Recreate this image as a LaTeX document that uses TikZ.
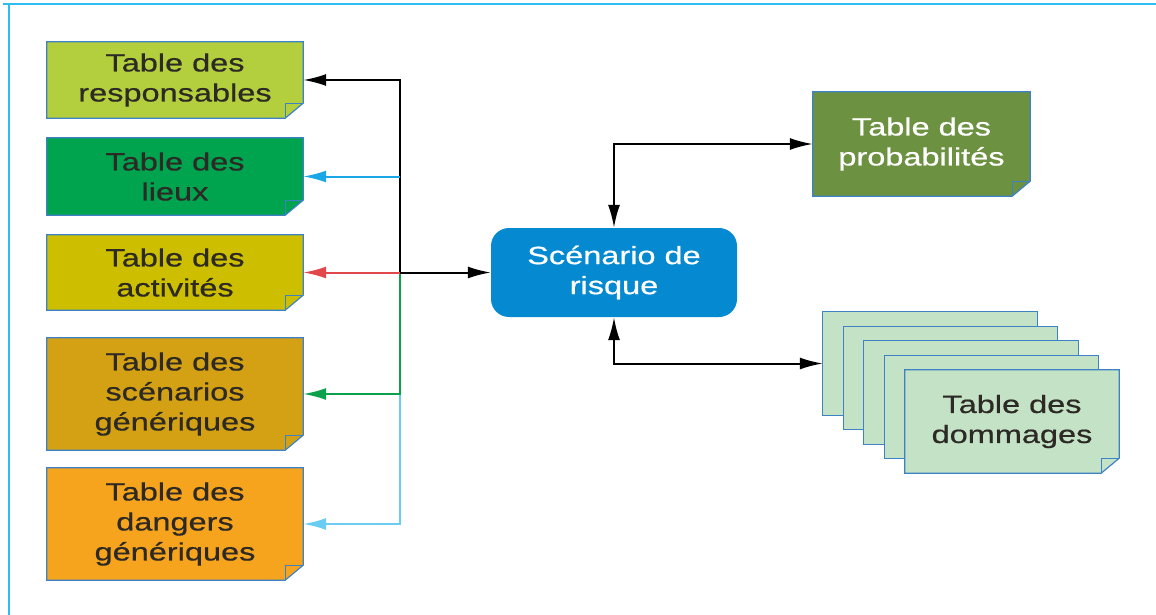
\documentclass[tikz,border=0pt]{standalone}
\usepackage{fontspec}
\setmainfont[FakeStretch=1.3,FakeBold=0.6]{Liberation Sans}
\usetikzlibrary{arrows.meta,backgrounds}
\definecolor{txt}{HTML}{2D2A26}
\definecolor{edge}{HTML}{3C82C4}
\definecolor{frame}{HTML}{2DBDF0}
\definecolor{respc}{HTML}{B3CF3D}
\definecolor{lieuxc}{HTML}{00A34E}
\definecolor{activc}{HTML}{CDBF00}
\definecolor{scenc}{HTML}{D4A114}
\definecolor{dangc}{HTML}{F6A31D}
\definecolor{probac}{HTML}{6C9140}
\definecolor{risquec}{HTML}{0589D0}
\definecolor{domc}{HTML}{C4E3C6}
\definecolor{lblue}{HTML}{1AA7E8}
\definecolor{lred}{HTML}{E2474B}
\definecolor{lgreen}{HTML}{0BA14B}
\definecolor{lsky}{HTML}{6ACCF2}
\begin{document}
\begin{tikzpicture}[x=1pt,y=-1pt,
	every node/.style={align=center,inner sep=0,text=txt,
	font=\fontsize{25}{30}\selectfont},
	table/.style={minimum width=256pt,minimum height=#1},
	sheet/.style={minimum width=214pt,minimum height=103pt},
	link/.style={line width=2pt,>={Latex[length=23pt,width=12pt]}},
	border/.style={draw=edge,line width=1.2pt}]
\useasboundingbox (0,0) rectangle (1156,615);
\draw[frame,line width=2.5pt] (3,4) -- (1156,4) (9,4) -- (9,615);
% left tables
\node[table=76pt] (resp) at (175,80) {Table des\\responsables};
\node[table=77pt] (lieux) at (175,176.5) {Table des\\lieux};
\node[table=75pt] (activ) at (175,272.5) {Table des\\activités};
\node[table=112pt] (scen) at (175,394) {Table des\\scénarios\\génériques};
\node[table=112pt] (dang) at (175,524) {Table des\\dangers\\génériques};
% centre
\node[minimum width=246pt,minimum height=89pt,fill=risquec,rounded corners=18pt,
	text=white] (risque) at (614,272.5) {Scénario de\\risque};
\node[minimum width=217pt,minimum height=104pt,text=white] (proba) at (921.5,144)
	{Table des\\probabilités};
\foreach \i in {1,...,4}
	\node[sheet] (dom\i) at ({930+20.5*(\i-1)},{363.5+14.5*(\i-1)}) {};
\node[sheet] (dom) at (1012,421.5) {Table des\\dommages};
\coordinate (hub) at (400,272.5);
\begin{scope}[on background layer]
\foreach \i in {1,...,4}
	\filldraw[border,fill=domc] (dom\i.north west) rectangle (dom\i.south east);
\foreach \n/\c in {resp/respc,lieux/lieuxc,activ/activc,scen/scenc,dang/dangc,
	proba/probac,dom/domc}{
	\filldraw[border,fill=\c] (\n.north west) -- (\n.north east)
		-- ([yshift=15pt]\n.south east) -- ([xshift=-18pt]\n.south east)
		-- (\n.south west) -- cycle;
	\draw[border,line width=0.8pt] ([xshift=-18pt]\n.south east)
		-- ([xshift=-18pt,yshift=15pt]\n.south east) -- ([yshift=15pt]\n.south east);
}
\end{scope}
% connectors
\draw[link,lsky,->] (scen.east -| hub) |- (dang.east);
\draw[link,lgreen,->] (hub) |- (scen.east);
\draw[link,->] (hub) |- (resp.east);
\draw[link,lblue,->] (lieux.east -| hub) -- (lieux.east);
\draw[link,lred,->] (hub) -- (activ.east);
\draw[link,->] (hub) -- (risque.west);
\draw[link,<->] (proba.west) -| (risque.north);
\draw[link,<->] (risque.south) |- (dom1.west);
\end{tikzpicture}
\end{document}
